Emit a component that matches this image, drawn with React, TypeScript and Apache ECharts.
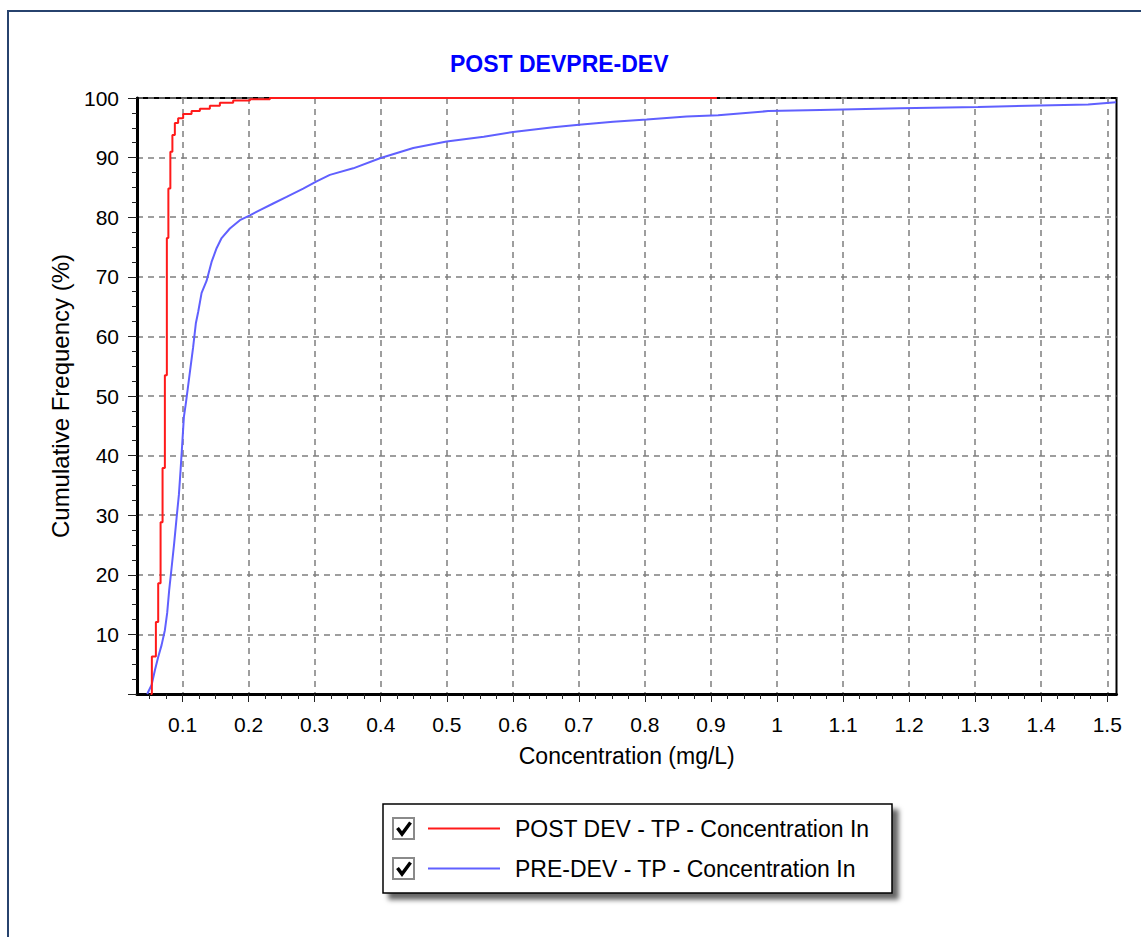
import React, { useEffect, useRef } from 'react';
import * as echarts from 'echarts';

const titleText = 'POST DEVPRE-DEV';
const xAxisName = 'Concentration (mg/L)';
const yAxisName = 'Cumulative Frequency (%)';
const seriesNames = ['POST DEV - TP - Concentration In', 'PRE-DEV - TP - Concentration In'];

const xMin = 0.031;
const xMax = 1.514;
const xTickValues = [0.1, 0.2, 0.3, 0.4, 0.5, 0.6, 0.7, 0.8, 0.9, 1, 1.1, 1.2, 1.3, 1.4, 1.5];
const yTickLabels = [10, 20, 30, 40, 50, 60, 70, 80, 90, 100];

// POST DEV (red) cumulative curve, drawn as steps
const postDevConc = [0.0516, 0.0535, 0.0596, 0.0631, 0.0667, 0.0697, 0.0732, 0.0762, 0.0785, 0.0815, 0.0846, 0.0883, 0.0933, 0.1009, 0.1136, 0.1262, 0.1413, 0.1565, 0.1766, 0.202, 0.2322, 0.909];
const postDevFreq = [0, 6.3, 12.1, 18.6, 28.8, 37.9, 53.5, 76.5, 84.8, 91.0, 93.8, 95.8, 96.6, 97.3, 97.8, 98.2, 98.7, 99.2, 99.6, 99.8, 100, 100];

// PRE-DEV (blue) cumulative curve
const preDevConc = [0.0464, 0.0531, 0.0581, 0.0631, 0.0682, 0.0732, 0.0767, 0.0797, 0.0833, 0.0873, 0.0909, 0.0944, 0.097, 0.0994, 0.102, 0.105, 0.1085, 0.1121, 0.116, 0.1201, 0.1236, 0.1288, 0.1363, 0.1439, 0.1515, 0.1591, 0.1716, 0.1868, 0.2019, 0.2171, 0.2372, 0.2575, 0.2826, 0.3029, 0.323, 0.3583, 0.3988, 0.4492, 0.4998, 0.556, 0.6006, 0.6612, 0.7002, 0.752, 0.8026, 0.8632, 0.9108, 0.9866, 1.0653, 1.1864, 1.3045, 1.471, 1.5134];
const preDevFreq = [0, 1.5, 4.0, 6.2, 8.2, 10.7, 13.6, 17.4, 21.1, 25.3, 29.5, 33.4, 37.6, 41.8, 46.5, 48.8, 51.8, 54.9, 58.2, 62.2, 64.1, 67.3, 69.3, 72.5, 74.8, 76.5, 78.1, 79.5, 80.3, 81.2, 82.3, 83.4, 84.8, 86.0, 87.1, 88.2, 89.9, 91.6, 92.7, 93.5, 94.3, 95.1, 95.5, 96.0, 96.4, 96.9, 97.1, 97.8, 98.0, 98.3, 98.5, 98.9, 99.3];

const FONT = '"Liberation Sans", Arial, Helvetica, sans-serif';

function minorTicks(): number[] {
  const out: number[] = [];
  xTickValues.forEach((t) => {
    [0.075, 0.05, 0.025].forEach((d) => {
      const v = Math.round((t - d) * 1000) / 1000;
      if (v > xMin && v < xMax) out.push(v);
    });
  });
  return out;
}

export default function App() {
  const ref = useRef<HTMLDivElement>(null);

  useEffect(() => {
    document.body.style.margin = '0';
    if (!ref.current) return;
    const chart = echarts.init(ref.current, undefined, { renderer: 'svg' });

    const postData = postDevConc.map((x, i) => [x, postDevFreq[i]]);
    const preData = preDevConc.map((x, i) => [x, preDevFreq[i]]);

    const dashed = { color: '#7f7f7f', type: [6, 5] as number[], width: 1.5 };

    const option: any = {
      animation: false,
      backgroundColor: '#ffffff',
      title: {
        text: titleText,
        left: 450,
        top: 52,
        padding: 0,
        textStyle: { color: '#0000ff', fontSize: 23, fontWeight: 'bold', fontFamily: FONT },
      },
      grid: {
        left: 137,
        top: 98,
        right: 24.5,
        bottom: 243,
        show: true,
        borderColor: '#000',
        borderWidth: 2,
        backgroundColor: 'transparent',
      },
      legend: {
        orient: 'vertical',
        left: 428,
        top: 817,
        padding: 0,
        itemWidth: 72,
        itemHeight: 2,
        itemGap: 17,
        selectedMode: false,
        textStyle: { fontSize: 23, color: '#000', fontFamily: FONT, padding: [0, 0, 0, 10] },
        data: seriesNames.map((n) => ({ name: n, icon: 'rect' })),
      },
      xAxis: [
        {
          type: 'value',
          min: xMin,
          max: xMax,
          position: 'bottom',
          name: xAxisName,
          nameLocation: 'middle',
          nameGap: 50,
          nameTextStyle: { fontSize: 23, color: '#000', fontFamily: FONT },
          axisLine: { show: true, onZero: false, lineStyle: { color: '#000', width: 3 } },
          axisTick: { show: true, length: 8, customValues: xTickValues, lineStyle: { color: '#222', width: 1 } },
          axisLabel: { show: true, customValues: xTickValues, margin: 20, fontSize: 21, color: '#000', fontFamily: FONT },
          splitLine: { show: true, lineStyle: dashed },
        },
        {
          type: 'value',
          min: xMin,
          max: xMax,
          position: 'bottom',
          axisLine: { show: false },
          axisTick: { show: true, length: 5, customValues: minorTicks(), lineStyle: { color: '#222', width: 1 } },
          axisLabel: { show: false },
          splitLine: { show: false },
        },
      ],
      yAxis: {
        type: 'value',
        min: 0,
        max: 100,
        interval: 10,
        name: yAxisName,
        nameLocation: 'middle',
        nameGap: 65,
        nameTextStyle: { fontSize: 24, color: '#000', fontFamily: FONT },
        axisLine: { show: true, onZero: false, lineStyle: { color: '#000', width: 3 } },
        axisTick: { show: true, length: 9, lineStyle: { color: '#222', width: 1 } },
        minorTick: { show: true, splitNumber: 4, length: 5, lineStyle: { color: '#222', width: 1 } },
        axisLabel: {
          show: true,
          margin: 18,
          fontSize: 21,
          color: '#000',
          fontFamily: FONT,
          formatter: (v: number) => (yTickLabels.indexOf(v) >= 0 ? String(v) : ''),
        },
        splitLine: { show: true, lineStyle: dashed },
      },
      graphic: [
        {
          type: 'rect',
          shape: { x: 8, y: 11, width: 1200, height: 1000 },
          style: { fill: 'none', stroke: '#27436e', lineWidth: 2 },
          silent: true,
        },
        {
          type: 'rect',
          shape: { x: 383, y: 804, width: 509, height: 89 },
          style: {
            fill: '#ffffff',
            stroke: '#000',
            lineWidth: 1.5,
            shadowBlur: 5,
            shadowOffsetX: 6,
            shadowOffsetY: 6,
            shadowColor: 'rgba(0,0,0,0.6)',
          },
          silent: true,
        },
        {
          type: 'rect',
          shape: { x: 393, y: 818, width: 21, height: 21 },
          style: { fill: '#fff', stroke: '#8a8a8a', lineWidth: 2 },
          silent: true,
        },
        {
          type: 'polyline',
          shape: { points: [[397.5, 828], [402, 834], [410.5, 822.5]] },
          style: { stroke: '#000', lineWidth: 3.5, fill: 'none' },
          silent: true,
        },
        {
          type: 'rect',
          shape: { x: 393, y: 858, width: 21, height: 21 },
          style: { fill: '#fff', stroke: '#8a8a8a', lineWidth: 2 },
          silent: true,
        },
        {
          type: 'polyline',
          shape: { points: [[397.5, 868], [402, 874], [410.5, 862.5]] },
          style: { stroke: '#000', lineWidth: 3.5, fill: 'none' },
          silent: true,
        },
      ],
      series: [
        {
          name: seriesNames[0],
          type: 'line',
          xAxisIndex: 0,
          data: postData,
          step: 'end',
          symbol: 'none',
          showSymbol: false,
          lineStyle: { color: '#ff1a1a', width: 2 },
          itemStyle: { color: '#ff1a1a' },
          z: 3,
        },
        {
          name: seriesNames[1],
          type: 'line',
          xAxisIndex: 0,
          data: preData,
          symbol: 'none',
          showSymbol: false,
          lineStyle: { color: '#6060ff', width: 2 },
          itemStyle: { color: '#6060ff' },
          z: 2,
        },
      ],
    };

    chart.setOption(option);
    return () => {
      chart.dispose();
    };
  }, []);

  return <div ref={ref} style={{ width: 1141, height: 937 }} />;
}
